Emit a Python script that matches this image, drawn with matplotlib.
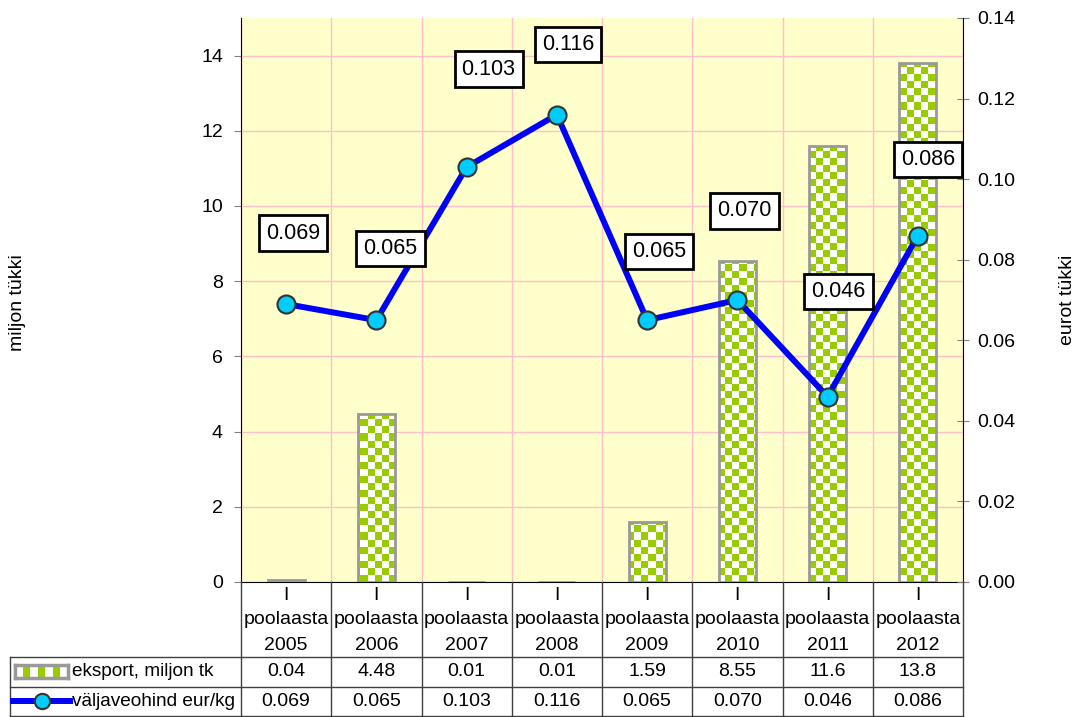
import numpy as np
import matplotlib
matplotlib.use('Agg')
import matplotlib.pyplot as plt
from matplotlib.transforms import blended_transform_factory
from matplotlib.lines import Line2D
from matplotlib.ticker import FormatStrFormatter

plt.rcParams['font.family'] = ['Liberation Sans', 'DejaVu Sans']

# andmed
half = 'I'
period_word = 'poolaasta'
years = ['2005', '2006', '2007', '2008', '2009', '2010', '2011', '2012']
export = [0.04, 4.48, 0.01, 0.01, 1.59, 8.55, 11.6, 13.8]
export_txt = ['0.04', '4.48', '0.01', '0.01', '1.59', '8.55', '11.6', '13.8']
price = [0.069, 0.065, 0.103, 0.116, 0.065, 0.070, 0.046, 0.086]
price_txt = ['0.069', '0.065', '0.103', '0.116', '0.065', '0.070', '0.046', '0.086']
export_name = 'eksport, miljon tk'
price_name = 'väljaveohind eur/kg'
left_label = 'miljon tükki'
right_label = 'eurot tükki'

# sildikastide nihe punktist (px)
label_offsets = [(7, 71), (14, 72), (22, 98), (11, 70), (12, 69), (7, 89), (11, 105), (10, 76)]

GREEN = np.array([0.6, 0.8, 0.0])
WHITE = np.array([1.0, 1.0, 1.0])
BLUE = '#0000FF'
CYAN = '#00CCFF'
PINK = '#FFC0CB'
W, H = 1080, 717
FS = 14


def fy(py):
    return 1 - py / H


fig = plt.figure(figsize=(W / 100, H / 100), dpi=100)
ax = fig.add_axes([241 / W, fy(582), (963 - 241) / W, (582 - 18) / H])
ax.set_facecolor('#FFFFCC')

x = np.arange(len(years))
bars = ax.bar(x, export, width=0.41, color='none', edgecolor='#999999',
              linewidth=2, zorder=3)

# malekaardi muster
chk = np.indices((80, 103)).sum(axis=0) % 2
rgb = np.where(chk[..., None] == 0, GREEN, WHITE)
for b in bars:
    im = ax.imshow(rgb, extent=(-0.5, 7.5, 0, 15), aspect='auto',
                   interpolation='nearest', zorder=2)
    im.set_clip_path(b)

ax.set_xlim(-0.5, 7.5)
ax.set_ylim(0, 15)
ax.set_yticks(np.arange(0, 15, 2))
ax.set_xticks([])
ax.set_xticks(np.arange(-0.5, 8, 1), minor=True)
ax.set_axisbelow(True)
ax.grid(axis='y', color=PINK, lw=1)
ax.grid(axis='x', which='minor', color=PINK, lw=1)
ax.tick_params(axis='x', which='both', length=0, labelbottom=False)
ax.tick_params(axis='y', direction='out', length=5, color='#808080',
               labelsize=FS, pad=8)
ax.spines['top'].set_visible(False)
ax.spines['right'].set_visible(False)

ax2 = ax.twinx()
ax2.set_ylim(0, 0.14)
ax2.set_yticks(np.arange(0, 0.141, 0.02))
ax2.yaxis.set_major_formatter(FormatStrFormatter('%.2f'))
ax2.tick_params(axis='y', direction='inout', length=8, color='#808080',
                labelsize=FS, pad=6)
for s in ['top', 'left', 'bottom']:
    ax2.spines[s].set_visible(False)
ax2.plot(x, price, color=BLUE, lw=4.3, marker='o', ms=13, mfc=CYAN,
         mec='#333333', mew=1.5, zorder=5)

for i, (p, t) in enumerate(zip(price, price_txt)):
    dx, dy = label_offsets[i]
    ax2.annotate(t, (i, p), xytext=(dx, dy), textcoords='offset pixels',
                 ha='center', va='center', fontsize=15.5, zorder=6,
                 bbox=dict(boxstyle='square,pad=0.33', fc='white', ec='black', lw=2))

# andmetabel
blend = blended_transform_factory(ax.transData, fig.transFigure)
tcol = '#404040'
for py in [657, 687, 716]:
    fig.add_artist(Line2D([10 / W, 963 / W], [fy(py)] * 2, color=tcol, lw=1))
for b in np.arange(-0.5, 8, 1):
    fig.add_artist(Line2D([b, b], [fy(582), fy(716)], color=tcol, lw=1,
                          transform=blend))
fig.add_artist(Line2D([10 / W] * 2, [fy(657), fy(716)], color=tcol, lw=1))

for i in x:
    fig.text(i, fy(596), half, ha='center', va='center', fontsize=FS, transform=blend)
    fig.text(i, fy(619), period_word, ha='center', va='center', fontsize=FS, transform=blend)
    fig.text(i, fy(645), years[i], ha='center', va='center', fontsize=FS, transform=blend)
    fig.text(i, fy(672), export_txt[i], ha='center', va='center', fontsize=FS, transform=blend)
    fig.text(i, fy(702), price_txt[i], ha='center', va='center', fontsize=FS, transform=blend)

# legendi sümbolid tabelis
lax = fig.add_axes([15 / W, fy(678), 53 / W, 13 / H])
cells = np.arange(7) % 2
lax.imshow(np.where(cells[None, :, None] == 1, GREEN, WHITE), aspect='auto',
           interpolation='nearest')
lax.set_xticks([])
lax.set_yticks([])
for s in lax.spines.values():
    s.set_color('#999999')
    s.set_linewidth(2.5)

fig.add_artist(Line2D([13 / W, 70 / W], [fy(701)] * 2, color=BLUE, lw=4.3))
fig.add_artist(Line2D([42 / W], [fy(701)], marker='o', ms=11, mfc=CYAN,
                      mec='#333333', mew=1.5, lw=0))
fig.text(72 / W, fy(672), export_name, ha='left', va='center', fontsize=13.7)
fig.text(72 / W, fy(701), price_name, ha='left', va='center', fontsize=13.7)

fig.text(18 / W, fy(303), left_label, rotation=90, ha='center', va='center', fontsize=FS)
fig.text(1068 / W, fy(300), right_label, rotation=90, ha='center', va='center', fontsize=FS)

fig.savefig('out.png', dpi=100)
